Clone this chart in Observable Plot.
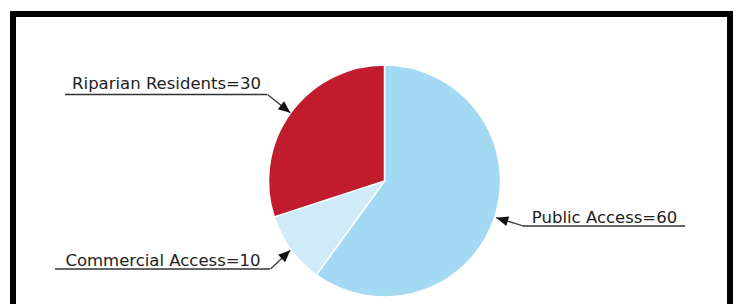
<!DOCTYPE html>
<html>
<head>
<meta charset="utf-8">
<script src="https://cdn.jsdelivr.net/npm/d3@7"></script>
<script src="https://cdn.jsdelivr.net/npm/@observablehq/plot@0.6"></script>
<style>
html, body { margin: 0; padding: 0; background: #fff; overflow: hidden; }
svg { display: block; }
</style>
</head>
<body>
<div id="chart"></div>
<script>
// ---- data ----
const categories = ["Public Access", "Commercial Access", "Riparian Residents"];
const values = [60, 10, 30];
const colors = ["#a3d9f2", "#cfeaf8", "#c11b2e"];

// ---- layout (pixel space) ----
const W = 736, H = 304;
const pieCenter = [384.5, 181];
const pieRadius = 116;
// label placement: underline extent, underline y, text baseline, elbow side
const labelLayout = {
  "Riparian Residents": { ux1: 65, ux2: 267, uy: 94, ty: 88.5, elbow: "right" },
  "Commercial Access":  { ux1: 55, ux2: 270, uy: 268.5, ty: 265.5, elbow: "right" },
  "Public Access":      { ux1: 523, ux2: 685, uy: 225.5, ty: 222.5, elbow: "left" }
};
const border = { x1: 13, x2: 730, y1: 14, y2: 340 };

const data = categories.map((c, i) => ({ category: c, value: values[i] }));
const colorScale = Plot.scale({ color: { type: "ordinal", domain: categories, range: colors } });

// slice angles (0 at 12 o'clock, clockwise)
const arcs = d3.pie().sort(null).value(d => d.value)(data);
const labels = arcs.map(a => {
  const L = labelLayout[a.data.category];
  const mid = (a.startAngle + a.endAngle) / 2;
  const tx = pieCenter[0] + (pieRadius + 1) * Math.sin(mid);
  const ty = pieCenter[1] - (pieRadius + 1) * Math.cos(mid);
  const ex = L.elbow === "right" ? L.ux2 : L.ux1;
  const ey = L.uy;
  const rot = Math.atan2(tx - ex, -(ty - ey)) * 180 / Math.PI;
  return {
    ...L,
    category: a.data.category,
    value: a.data.value,
    text: `${a.data.category}=${a.data.value}`,
    cx: (L.ux1 + L.ux2) / 2,
    ex, ey, tx, ty2: ty, rot
  };
});

function pieMark(index, scales) {
  const sx = scales && scales.x ? scales.x : (v => v);
  const sy = scales && scales.y ? scales.y : (v => v);
  const cx = sx(pieCenter[0]), cy = sy(pieCenter[1]);
  const r = Math.abs(sx(pieCenter[0] + pieRadius) - cx);
  const arc = d3.arc().innerRadius(0).outerRadius(r);
  const g = d3.create("svg:g").attr("transform", `translate(${cx},${cy})`);
  g.selectAll("path")
    .data(arcs)
    .join("path")
    .attr("d", arc)
    .attr("fill", d => colorScale.apply(d.data.category))
    .attr("stroke", "#ffffff")
    .attr("stroke-width", 1.5)
    .attr("stroke-linejoin", "round");
  return g.node();
}

const chart = Plot.plot({
  width: W,
  height: H,
  margin: 0,
  style: { background: "#ffffff", overflow: "hidden" },
  x: { domain: [0, W], axis: null },
  y: { domain: [0, H], reverse: true, axis: null },
  marks: [
    pieMark,
    Plot.rect([border], { x1: "x1", x2: "x2", y1: "y1", y2: "y2", fill: "none", stroke: "#000", strokeWidth: 6 }),
    Plot.ruleY(labels, { y: "uy", x1: "ux1", x2: "ux2", stroke: "#333", strokeWidth: 1.3 }),
    Plot.link(labels, { x1: "ex", y1: "ey", x2: "tx", y2: "ty2", stroke: "#333", strokeWidth: 1.3 }),
    Plot.vector(labels, { x: "tx", y: "ty2", rotate: "rot", length: 12, r: 5, shape: "spike", anchor: "end", fill: "#111", stroke: "none" }),
    Plot.text(labels, { x: "cx", y: "ty", text: "text", fontSize: 16.5, fontFamily: "DejaVu Sans", fill: "#222", lineAnchor: "bottom" })
  ]
});

document.getElementById("chart").appendChild(chart);
</script>
</body>
</html>
